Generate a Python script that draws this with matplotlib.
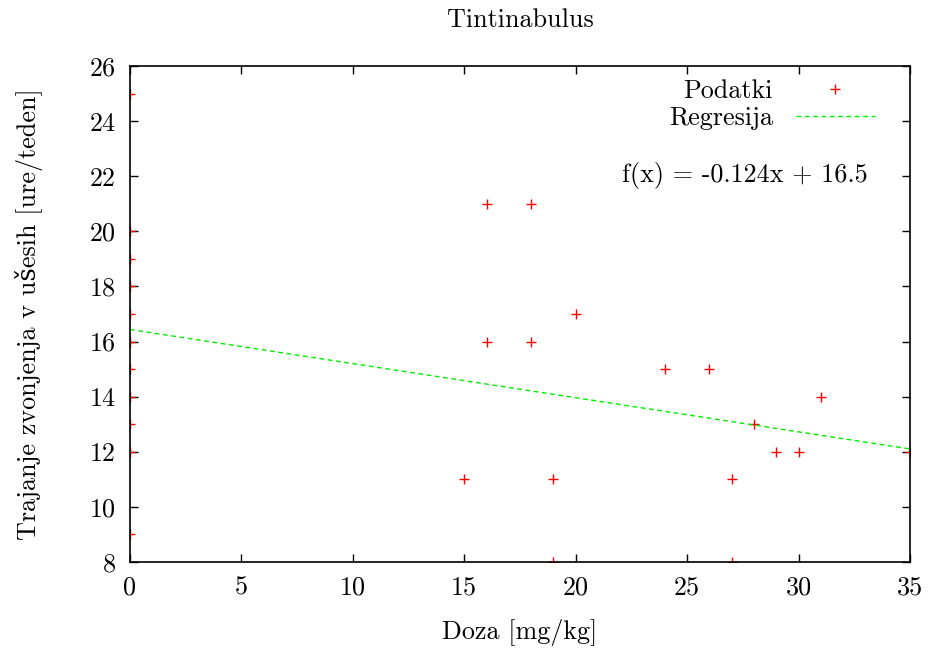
import matplotlib.pyplot as plt
import numpy as np

# data
doza = [0, 0, 0, 0, 0, 0, 0, 0, 0, 0, 0,
        15, 16, 16, 18, 18, 19, 19, 20, 24, 26, 27, 27, 28, 29, 30, 31, 35]
trajanje = [25, 20, 19, 18, 17, 16, 15, 14, 13, 12, 9,
            11, 21, 16, 21, 16, 11, 8, 17, 15, 15, 11, 8, 13, 12, 12, 14, 12]
x_ticks = [0, 5, 10, 15, 20, 25, 30, 35]
y_ticks = [8, 10, 12, 14, 16, 18, 20, 22, 24, 26]
fit_text = "f(x) = -0.124x + 16.5"

plt.rcParams["font.family"] = ["cmr10", "DejaVu Serif"]
plt.rcParams["axes.unicode_minus"] = False
plt.rcParams["mathtext.fontset"] = "cm"
FS = 18.8

fig = plt.figure(figsize=(9.31, 6.54), dpi=100)
ax = fig.add_axes([0.1396, 0.1407, 0.8378, 0.7583])

x = np.array(doza, dtype=float)
y = np.array(trajanje, dtype=float)
slope, intercept = np.polyfit(x, y, 1)

ax.plot(x, y, "+", color="red", markersize=6.5, markeredgewidth=1.0, label="Podatki")
xs = np.array([0, 35])
ax.plot(xs, slope * xs + intercept, color="#00ee00", linewidth=1.0,
        dashes=(3.5, 2.5), label="Regresija")

ax.set_xlim(0, 35)
ax.set_ylim(8, 26)
ax.set_xticks(x_ticks)
ax.set_yticks(y_ticks)
ax.tick_params(direction="in", length=6, width=1, top=True, right=True,
               labelsize=FS, pad=10)
for s in ax.spines.values():
    s.set_linewidth(1.2)

ax.set_title("Tintinabulus", fontsize=FS, pad=28)
ax.set_xlabel("Doza [mg/kg]", fontsize=FS, labelpad=14)
ax.set_ylabel("Trajanje zvonjenja v ušesih [ure/teden]", fontsize=FS, labelpad=34)

leg = ax.legend(loc="upper right", markerfirst=False, frameon=False,
                fontsize=FS, handlelength=3.0, borderaxespad=0.0,
                labelspacing=0.15, handletextpad=0.9,
                bbox_to_anchor=(0.968, 0.995))
ax.text(0.946, 0.78, fit_text, transform=ax.transAxes, ha="right",
        va="center", fontsize=FS)

fig.savefig("out.png", dpi=100)
